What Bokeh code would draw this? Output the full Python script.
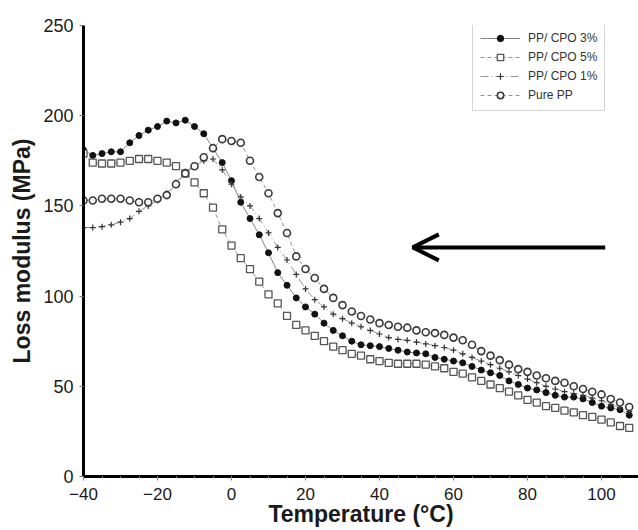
from bokeh.plotting import figure
from bokeh.models import (Range1d, FixedTicker, Legend, LegendItem,
                          Arrow, OpenHead)
from bokeh.embed import file_html
from bokeh.resources import INLINE

# ---------------- data ----------------
temperature = [-40, -37.5, -35, -32.5, -30, -27.5, -25, -22.5, -20, -17.5,
               -15, -12.5, -10, -7.5, -5, -2.5, 0, 2.5, 5, 7.5,
               10, 12.5, 15, 17.5, 20, 22.5, 25, 27.5, 30, 32.5,
               35, 37.5, 40, 42.5, 45, 47.5, 50, 52.5, 55, 57.5,
               60, 62.5, 65, 67.5, 70, 72.5, 75, 77.5, 80, 82.5,
               85, 87.5, 90, 92.5, 95, 97.5, 100, 102.5, 105, 107.5]

cpo3 = [181, 178, 179, 180, 180, 185, 189, 192, 194, 197,
        196, 197.5, 194, 190, 182, 174, 164, 152, 143, 134,
        124, 113, 106, 99, 94, 90, 85, 81, 78, 75,
        73, 72.5, 72, 71, 70, 69, 68.5, 68, 66, 65,
        64, 63, 61, 59, 57.5, 56, 53, 51, 49, 48,
        46.5, 45, 44, 44, 43, 41, 39, 38, 37, 34]

cpo5 = [179, 174, 173.5, 173.5, 174, 175, 176, 176, 175, 174,
        172, 168, 163, 157, 149, 137, 128, 121, 115, 108,
        101, 96, 89, 84, 81, 78, 75, 72, 70, 68,
        67, 65, 64, 63, 62.5, 62.5, 62.5, 62, 61, 60,
        58, 57, 55, 53, 51, 49, 47, 45, 42.5, 41,
        39, 38, 36.5, 35.5, 34, 33, 31.5, 30, 28, 27]

cpo1 = [138, 138, 138.5, 139.5, 141, 143, 147, 150, 153, 157,
        163, 169, 172, 175, 176, 170, 162, 155, 150, 143,
        135, 127, 120, 112, 104, 98, 94, 90, 87.5, 85,
        83, 81, 79, 77, 76, 75.5, 74.5, 73.5, 72.5, 71.5,
        70, 68, 66, 64, 62, 60, 58, 56, 54, 52,
        50, 48.5, 47, 46, 45, 43.5, 42, 40, 38, 36]

pure_pp = [153, 153, 154, 154, 154, 153, 152, 152, 154, 156,
           162, 168, 172, 177, 182, 187, 186, 185, 175, 166,
           157, 146, 135, 122, 115, 110, 104, 99, 95, 91.5,
           89, 87, 85, 84, 83, 82.5, 81, 80, 79.5, 78.5,
           77, 75.5, 73, 69.5, 67, 64.5, 62, 59.5, 58, 56,
           54.5, 53, 52, 50, 48.5, 47, 45.5, 43, 41, 38.5]

series_names = ["PP/ CPO 3%", "PP/ CPO 5%", "PP/ CPO 1%", "Pure PP"]
x_ticks = [-40, -20, 0, 20, 40, 60, 80, 100]
x_minor_ticks = [-40, -35, -30, -25, -20, -15, -10, -5, 0, 5, 10, 15, 20, 25,
                 30, 35, 40, 45, 50, 55, 60, 65, 70, 75, 80, 85, 90, 95, 100,
                 105, 110]
y_ticks = [0, 50, 100, 150, 200, 250]

# arrow annotation (data units)
arrow_x_start, arrow_x_end, arrow_y = 101, 49, 127

FONT = "Liberation Sans, Arial, sans-serif"
NARROW = "Liberation Sans Narrow, Liberation Sans, Arial Narrow, sans-serif"

p = figure(width=638, height=530, x_range=Range1d(-40, 110),
           y_range=Range1d(0, 250), output_backend="svg",
           toolbar_location=None, min_border_left=83, min_border_right=0,
           min_border_top=25, min_border_bottom=54)
p.background_fill_color = "white"
p.border_fill_color = "white"
p.outline_line_color = None
p.grid.visible = False

# series
l3 = p.line(temperature, cpo3, line_color="#666666", line_width=0.8)
s3 = p.scatter(temperature, cpo3, marker="circle", size=6,
               fill_color="#111111", line_color="#111111")

l5 = p.line(temperature, cpo5, line_color="#777777", line_width=0.8,
            line_dash="4 3")
s5 = p.scatter(temperature, cpo5, marker="square", size=7,
               fill_color="white", line_color="#555555", line_width=1.3)

l1 = p.line(temperature, cpo1, line_color="#777777", line_width=0.8,
            line_dash="8 3 1 3")
s1 = p.scatter(temperature, cpo1, marker="cross", size=6,
               line_color="#333333", line_width=1.2)

lp = p.line(temperature, pure_pp, line_color="#777777", line_width=0.8,
            line_dash="4 3")
sp = p.scatter(temperature, pure_pp, marker="circle", size=7,
               fill_color="white", line_color="#3a3a3a", line_width=1.6)

# axes
for ax in (p.xaxis[0], p.yaxis[0]):
    ax.axis_line_width = 3
    ax.axis_line_color = "black"
    ax.major_tick_line_color = "#777777"
    ax.major_tick_line_width = 1
    ax.major_tick_out = 4
    ax.major_tick_in = 0
    ax.major_label_text_font = FONT
    ax.major_label_text_font_size = "18px"
    ax.major_label_text_color = "#1a1a1a"
    ax.axis_label_text_font = FONT
    ax.axis_label_text_font_size = "23px"
    ax.axis_label_text_font_style = "bold"
    ax.axis_label_text_color = "#1a1a1a"

p.xaxis[0].ticker = FixedTicker(ticks=x_ticks, minor_ticks=x_minor_ticks)
p.xaxis[0].minor_tick_out = 2
p.xaxis[0].minor_tick_in = 0
p.xaxis[0].minor_tick_line_color = "#999999"
p.xaxis[0].major_label_text_font_size = "17px"
p.xaxis[0].major_label_standoff = 7
p.xaxis[0].axis_label = "Temperature (°C)"
p.xaxis[0].axis_label_standoff = -2

p.yaxis[0].ticker = FixedTicker(ticks=y_ticks)
p.yaxis[0].minor_tick_line_color = None
p.yaxis[0].major_label_standoff = 6
p.yaxis[0].axis_label = "Loss modulus (MPa)"
p.yaxis[0].axis_label_standoff = 5

# arrow
p.add_layout(Arrow(end=OpenHead(size=26, line_width=4, line_color="black"),
                   x_start=arrow_x_start, y_start=arrow_y,
                   x_end=arrow_x_end, y_end=arrow_y,
                   line_width=4, line_color="black"))

# legend
legend = Legend(items=[
    LegendItem(label=series_names[0], renderers=[l3, s3]),
    LegendItem(label=series_names[1], renderers=[l5, s5]),
    LegendItem(label=series_names[2], renderers=[l1, s1]),
    LegendItem(label=series_names[3], renderers=[lp, sp]),
], location=(389, 365))
legend.label_text_font = NARROW
legend.label_text_font_size = "12px"
legend.label_text_color = "#333333"
legend.glyph_width = 40
legend.glyph_height = 16
legend.label_height = 16
legend.label_standoff = 8
legend.spacing = 3
legend.padding = 7
legend.margin = 0
legend.border_line_color = "#aaaaaa"
legend.border_line_width = 1
legend.background_fill_color = "white"
p.add_layout(legend)

open("out.html", "w").write(file_html(p, INLINE))
